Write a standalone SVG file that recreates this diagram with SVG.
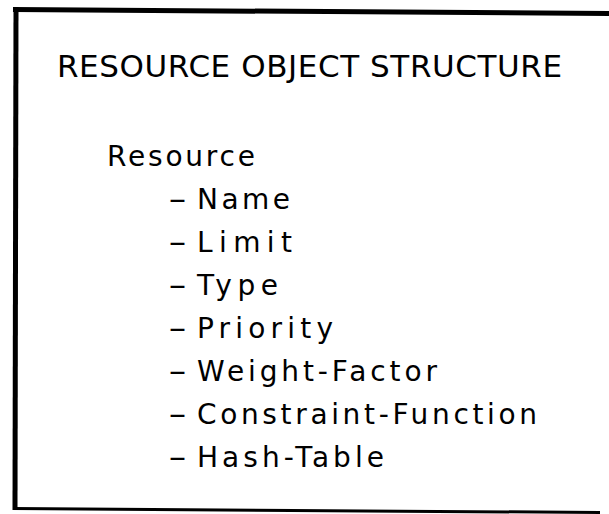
<svg xmlns="http://www.w3.org/2000/svg" width="609" height="514" viewBox="0 0 609 514">
<style>
.t{font-family:"DejaVu Sans","Liberation Sans",Arial,sans-serif;fill:#000}
.h{font-size:31px}
.i{font-size:28px}
.b{fill:none;stroke:#000;stroke-linecap:butt}
</style>
<rect width="609" height="514" fill="#fff"/>
<g id="frame">
<line class="b" x1="13" y1="9.5" x2="609" y2="13.5" stroke-width="5"/>
<line class="b" x1="16" y1="7" x2="15" y2="510" stroke-width="5"/>
<line class="b" x1="13" y1="508.5" x2="600" y2="512.5" stroke-width="3"/>
</g>
<g id="title">
<text class="t h" x="57" y="77" textLength="505" lengthAdjust="spacing">RESOURCE OBJECT STRUCTURE</text>
</g>
<g id="resource">
<text class="t i" x="107" y="166" textLength="148" lengthAdjust="spacing">Resource</text>
</g>
<g id="fields" class="t i">
<text y="209"><tspan x="168" textLength="19" lengthAdjust="spacingAndGlyphs">-</tspan><tspan x="197" textLength="93" lengthAdjust="spacing">Name</tspan></text>
<text y="252"><tspan x="168" textLength="19" lengthAdjust="spacingAndGlyphs">-</tspan><tspan x="197" textLength="95" lengthAdjust="spacing">Limit</tspan></text>
<text y="295"><tspan x="168" textLength="19" lengthAdjust="spacingAndGlyphs">-</tspan><tspan x="197" textLength="81" lengthAdjust="spacing">Type</tspan></text>
<text y="338"><tspan x="168" textLength="19" lengthAdjust="spacingAndGlyphs">-</tspan><tspan x="197" textLength="136" lengthAdjust="spacing">Priority</tspan></text>
<text y="381"><tspan x="168" textLength="19" lengthAdjust="spacingAndGlyphs">-</tspan><tspan x="197" textLength="240" lengthAdjust="spacing">Weight-Factor</tspan></text>
<text y="424"><tspan x="168" textLength="19" lengthAdjust="spacingAndGlyphs">-</tspan><tspan x="197" textLength="340" lengthAdjust="spacing">Constraint-Function</tspan></text>
<text y="467"><tspan x="168" textLength="19" lengthAdjust="spacingAndGlyphs">-</tspan><tspan x="197" textLength="187" lengthAdjust="spacing">Hash-Table</tspan></text>
</g>
</svg>
